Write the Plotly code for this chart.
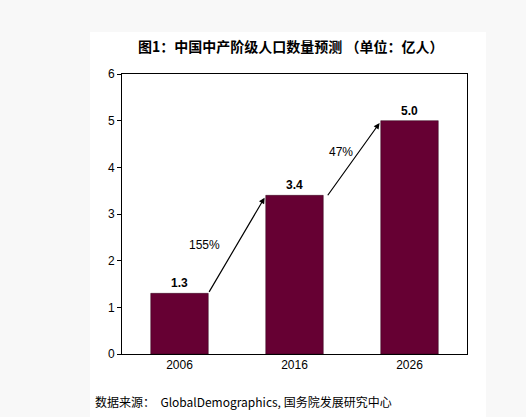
import plotly.graph_objects as go

# data
years = ["2006", "2016", "2026"]
population = [1.3, 3.4, 5.0]
bar_labels = ["1.3", "3.4", "5.0"]
growth_labels = ["155%", "47%"]
growth_label_pos = [(0.22, 2.34), (1.40, 4.33)]

title_text = "图1：中国中产阶级人口数量预测 （单位：亿人）"
source_text = "数据来源：  GlobalDemographics, 国务院发展研究中心"

bar_color = "#660033"
cjk = "Noto Sans CJK SC"
latin = "Liberation Sans, Arial"

fig = go.Figure()
fig.add_trace(go.Bar(
    x=[0, 1, 2], y=population,
    marker=dict(color=bar_color, line=dict(color="#330018", width=0.5)),
    text=bar_labels, textposition="outside",
    textfont=dict(family=latin, size=12, color="black", weight="bold"),
    cliponaxis=False, hoverinfo="skip",
))

# growth arrows from the top of one bar to the top of the next
half = 0.25
for i, lab in enumerate(growth_labels):
    x0 = i + half + (0.03 if i else 0)
    x1 = i + 1 - half - 0.01
    fig.add_annotation(x=x1, y=population[i + 1] - 0.05, ax=x0, ay=population[i] - (0.03 if i else 0),
                       xref="x", yref="y", axref="x", ayref="y",
                       showarrow=True, arrowhead=2, arrowsize=1, arrowwidth=1.2,
                       arrowcolor="black", text="")
    gx, gy = growth_label_pos[i]
    fig.add_annotation(x=gx, y=gy, xref="x", yref="y", text=lab, showarrow=False,
                       font=dict(family=latin, size=12, color="black"))

fig.add_annotation(x=0.487, y=1.1, xref="paper", yref="paper", text=title_text,
                   showarrow=False, xanchor="center", yanchor="middle",
                   font=dict(family=cjk, size=14, color="black", weight="bold"))
fig.add_annotation(x=-0.084, y=-0.168, xref="paper", yref="paper", text=source_text,
                   showarrow=False, xanchor="left", yanchor="middle",
                   font=dict(family=cjk, size=12, color="black"))

# the page body keeps an 8px margin, so the figure is a little smaller than the window
fig.update_layout(
    width=518, height=409,
    margin=dict(l=114, r=59, t=66, b=63),
    paper_bgcolor="#f8f8f8", plot_bgcolor="white",
    showlegend=False, bargap=0.5,
    shapes=[dict(type="rect", xref="paper", yref="paper", layer="below",
                 x0=-0.0928, x1=1.055, y0=-0.23, y1=1.15,
                 fillcolor="white", line=dict(width=0))],
    xaxis=dict(tickvals=[0, 1, 2], ticktext=years, range=[-0.5, 2.5],
               showline=True, linecolor="black", linewidth=1, mirror=True,
               ticks="", showgrid=False, zeroline=False,
               tickfont=dict(family=latin, size=12, color="black")),
    yaxis=dict(range=[0, 6], dtick=1, showline=True, linecolor="black", linewidth=1,
               mirror=True, ticks="outside", ticklen=4, tickcolor="black",
               showgrid=False, zeroline=False,
               tickfont=dict(family=latin, size=12, color="black")),
)

fig.write_html("out.html", post_script="document.body.style.background='#f8f8f8';")
